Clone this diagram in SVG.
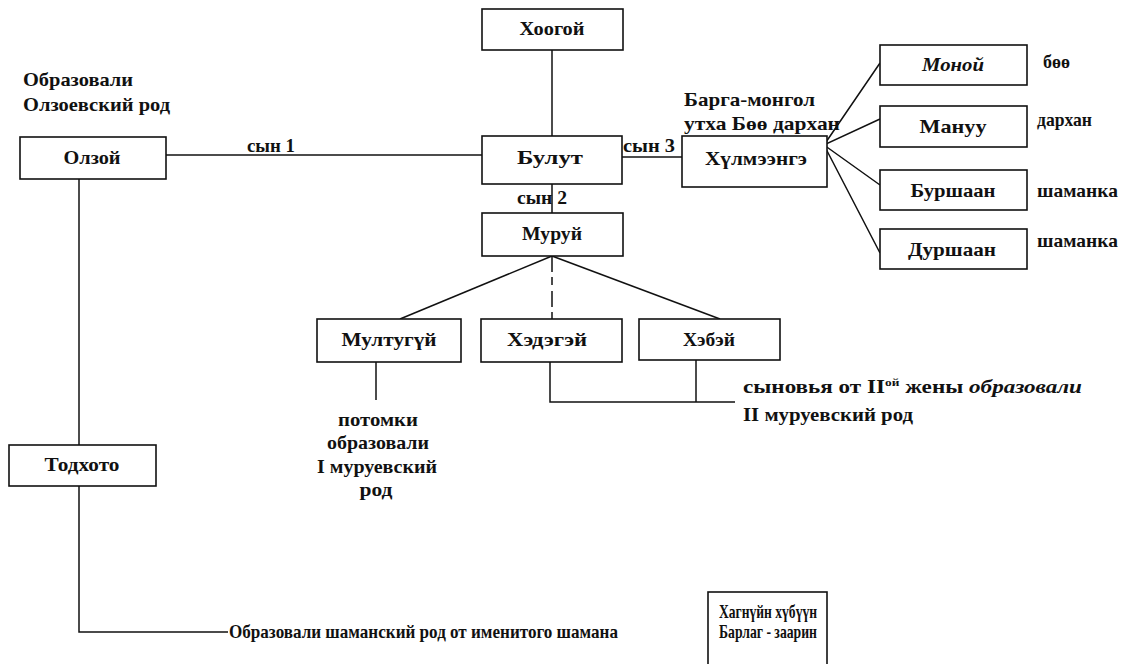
<svg xmlns="http://www.w3.org/2000/svg" width="1121" height="664" viewBox="0 0 1121 664">
<style>
text{font-family:"Liberation Serif","Times New Roman",serif;font-weight:bold;font-size:19px;fill:#111}
.c{text-anchor:middle}
.box{fill:#fff;stroke:#111;stroke-width:1.6}
.ln{stroke:#111;stroke-width:1.5;fill:none}
.it{font-style:italic}
</style>
<rect width="1121" height="664" fill="#fff"/>
<g id="connectors">
<line class="ln" x1="166" y1="155" x2="482" y2="155"/>
<line class="ln" x1="552" y1="50" x2="552" y2="136"/>
<line class="ln" x1="622" y1="157" x2="682" y2="157"/>
<line class="ln" x1="552" y1="184" x2="552" y2="213"/>
<polyline class="ln" points="880,63 824,145 880,119"/>
<polyline class="ln" points="880,185 824,145 880,253"/>
<line class="ln" x1="552" y1="256" x2="400" y2="319"/>
<line class="ln" x1="552" y1="256" x2="552" y2="319" stroke-dasharray="16,5,8,6"/>
<line class="ln" x1="552" y1="256" x2="720" y2="319"/>
<line class="ln" x1="376" y1="362" x2="376" y2="400"/>
<polyline class="ln" points="550,362 550,402 735,402"/>
<line class="ln" x1="696" y1="360" x2="696" y2="402"/>
<line class="ln" x1="79" y1="179" x2="79" y2="445"/>
<polyline class="ln" points="79,486 79,632 228,632"/>
</g>
<g id="olzoy"><rect class="box" x="20" y="137" width="146" height="42"/><text class="c" x="92" y="164" textLength="57" lengthAdjust="spacingAndGlyphs">Олзой</text></g>
<g id="khoogoy"><rect class="box" x="482" y="9" width="141" height="41"/><text class="c" x="552" y="35" textLength="65" lengthAdjust="spacingAndGlyphs">Хоогой</text></g>
<g id="bulut"><rect class="box" x="482" y="136" width="140" height="48"/><text class="c" x="550" y="164" textLength="66" lengthAdjust="spacingAndGlyphs">Булут</text></g>
<g id="khulmeenge"><rect class="box" x="682" y="136" width="145" height="51"/><text class="c" x="756" y="165" textLength="102" lengthAdjust="spacingAndGlyphs">Хүлмээнгэ</text></g>
<g id="monoy"><rect class="box" x="880" y="45" width="147" height="40"/><text class="c it" x="953" y="71" textLength="62" lengthAdjust="spacingAndGlyphs">Моной</text></g>
<g id="manuu"><rect class="box" x="880" y="106" width="147" height="41"/><text class="c" x="953" y="133" textLength="67" lengthAdjust="spacingAndGlyphs">Мануу</text></g>
<g id="burshaan"><rect class="box" x="880" y="170" width="147" height="40"/><text class="c" x="953" y="197" textLength="85" lengthAdjust="spacingAndGlyphs">Буршаан</text></g>
<g id="durshaan"><rect class="box" x="880" y="229" width="147" height="40"/><text class="c" x="952" y="256" textLength="88" lengthAdjust="spacingAndGlyphs">Дуршаан</text></g>
<g id="muruy"><rect class="box" x="482" y="213" width="141" height="43"/><text class="c" x="552" y="240" textLength="60" lengthAdjust="spacingAndGlyphs">Муруй</text></g>
<g id="multugui"><rect class="box" x="317" y="319" width="144" height="43"/><text class="c" x="389" y="346" textLength="95" lengthAdjust="spacingAndGlyphs">Мултугүй</text></g>
<g id="khedegey"><rect class="box" x="481" y="319" width="141" height="43"/><text class="c" x="547" y="346" textLength="80" lengthAdjust="spacingAndGlyphs">Хэдэгэй</text></g>
<g id="khebey"><rect class="box" x="639" y="319" width="141" height="41"/><text class="c" x="709" y="346" textLength="52" lengthAdjust="spacingAndGlyphs">Хэбэй</text></g>
<g id="todkhoto"><rect class="box" x="9" y="445" width="147" height="41"/><text class="c" x="82" y="471" textLength="75" lengthAdjust="spacingAndGlyphs">Тодхото</text></g>
<g id="khagnuin"><rect class="box" x="708" y="592" width="119" height="80"/><text class="c" x="768" y="618" font-size="17" textLength="98" lengthAdjust="spacingAndGlyphs">Хагнүйн хүбүүн</text><text class="c" x="768" y="638" font-size="17" textLength="98" lengthAdjust="spacingAndGlyphs">Барлаг - заарин</text></g>
<g id="labels">
<text x="23" y="86" textLength="110" lengthAdjust="spacingAndGlyphs">Образовали</text>
<text x="23" y="111" textLength="147" lengthAdjust="spacingAndGlyphs">Олзоевский род</text>
<text x="247" y="152" textLength="48" lengthAdjust="spacingAndGlyphs">сын 1</text>
<text x="623" y="152" textLength="52" lengthAdjust="spacingAndGlyphs">сын 3</text>
<text x="517" y="204" textLength="50" lengthAdjust="spacingAndGlyphs">сын 2</text>
<text x="684" y="106" textLength="131" lengthAdjust="spacingAndGlyphs">Барга-монгол</text>
<text x="684" y="130" textLength="156" lengthAdjust="spacingAndGlyphs">утха Бөө дархан</text>
<text x="1043" y="68" textLength="27" lengthAdjust="spacingAndGlyphs">бөө</text>
<text x="1037" y="126" textLength="55" lengthAdjust="spacingAndGlyphs">дархан</text>
<text x="1037" y="197" textLength="81" lengthAdjust="spacingAndGlyphs">шаманка</text>
<text x="1037" y="247" textLength="81" lengthAdjust="spacingAndGlyphs">шаманка</text>
<text class="c" x="378" y="426" textLength="80" lengthAdjust="spacingAndGlyphs">потомки</text>
<text class="c" x="378" y="449" textLength="102" lengthAdjust="spacingAndGlyphs">образовали</text>
<text class="c" x="377" y="473" textLength="120" lengthAdjust="spacingAndGlyphs">I муруевский</text>
<text class="c" x="376" y="496" textLength="33" lengthAdjust="spacingAndGlyphs">род</text>
<text x="743" y="393" textLength="339" lengthAdjust="spacingAndGlyphs">сыновья от II<tspan font-size="11" dy="-7">ой</tspan><tspan dy="7">  жены </tspan><tspan class="it">образовали</tspan></text>
<text x="743" y="421" textLength="170" lengthAdjust="spacingAndGlyphs">II муруевский род</text>
<text x="229" y="638" font-size="18" textLength="389" lengthAdjust="spacingAndGlyphs">Образовали шаманский род от именитого шамана</text>
</g>
</svg>
